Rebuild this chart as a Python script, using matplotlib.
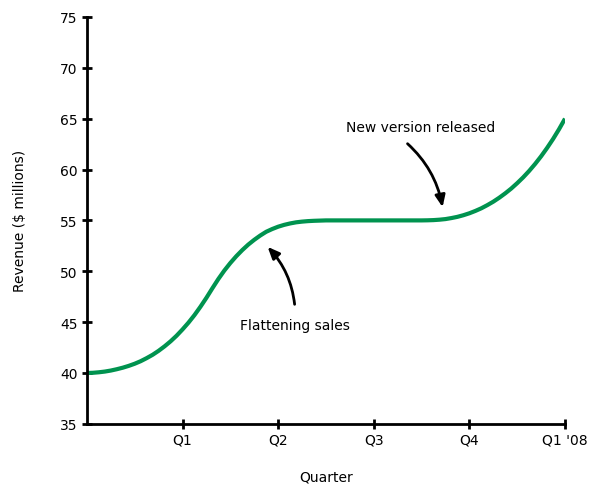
import matplotlib.pyplot as plt

# quarterly revenue, $ millions (sampled every 1/16 of a quarter on the curved parts)
quarter_pos = [0, 0.0625, 0.125, 0.1875, 0.25, 0.3125, 0.375, 0.4375, 0.5, 0.5625,
               0.625, 0.6875, 0.75, 0.8125, 0.875, 0.9375, 1.0, 1.0625, 1.125, 1.1875,
               1.25, 1.3125, 1.375, 1.4375, 1.5, 1.5625, 1.625, 1.6875, 1.75, 1.8125,
               1.875, 1.9375, 2.0, 2.0625, 2.125, 2.1875, 2.25, 2.3125, 2.375, 2.4375,
               2.5, 3.0, 3.5, 3.5625, 3.625, 3.6875, 3.75, 3.8125, 3.875, 3.9375,
               4.0, 4.0625, 4.125, 4.1875, 4.25, 4.3125, 4.375, 4.4375, 4.5, 4.5625,
               4.625, 4.6875, 4.75, 4.8125, 4.875, 4.9375, 5.0]
revenue = [40.0, 40.02, 40.07, 40.14, 40.24, 40.37, 40.52, 40.70, 40.91, 41.16,
           41.46, 41.79, 42.18, 42.62, 43.11, 43.66, 44.28, 44.95, 45.69, 46.51,
           47.39, 48.33, 49.24, 50.07, 50.81, 51.48, 52.08, 52.62, 53.09, 53.51,
           53.88, 54.15, 54.38, 54.56, 54.70, 54.81, 54.88, 54.93, 54.96, 54.98,
           55.0, 55.0, 55.0, 55.01, 55.03, 55.07, 55.13, 55.23, 55.35, 55.51,
           55.70, 55.93, 56.19, 56.50, 56.84, 57.23, 57.66, 58.13, 58.66, 59.23,
           59.86, 60.55, 61.30, 62.12, 63.00, 63.96, 65.0]

tick_pos = [1, 2, 3, 4, 5]
tick_labels = ['Q1', 'Q2', 'Q3', 'Q4', "Q1 '08"]

fig = plt.figure(figsize=(5.91, 4.85), dpi=100)
ax = fig.add_axes([0.147, 0.124, 0.809, 0.839])

ax.plot(quarter_pos, revenue, color='#00934f', lw=3, solid_capstyle='butt',
        solid_joinstyle='round')

ax.set_xlim(0, 5)
ax.set_ylim(35, 75)
ax.set_xticks(tick_pos)
ax.set_xticklabels(tick_labels)
ax.set_yticks(range(35, 76, 5))

for side in ['top', 'right']:
    ax.spines[side].set_visible(False)
for side in ['left', 'bottom']:
    ax.spines[side].set_linewidth(2)
ax.tick_params(direction='inout', length=7, width=2, labelsize=10, pad=3)

ax.set_xlabel('Quarter', fontsize=10, labelpad=16)
ax.set_ylabel('Revenue ($ millions)', fontsize=10, labelpad=24)

arrow = dict(arrowstyle='-|>,head_length=0.7,head_width=0.3', color='black', lw=2,
             shrinkA=8, shrinkB=0)
ax.annotate('Flattening sales', xy=(1.89, 52.4), xytext=(2.18, 44.7),
            ha='center', va='center', fontsize=10,
            arrowprops=dict(arrow, connectionstyle='arc3,rad=0.2', relpos=(0.5, 1.0)))
ax.annotate('New version released', xy=(3.72, 56.3), xytext=(3.49, 64.2),
            ha='center', va='center', fontsize=10,
            arrowprops=dict(arrow, connectionstyle='arc3,rad=-0.2', relpos=(0.33, 0.0)))

fig.savefig('out.png', dpi=100)
